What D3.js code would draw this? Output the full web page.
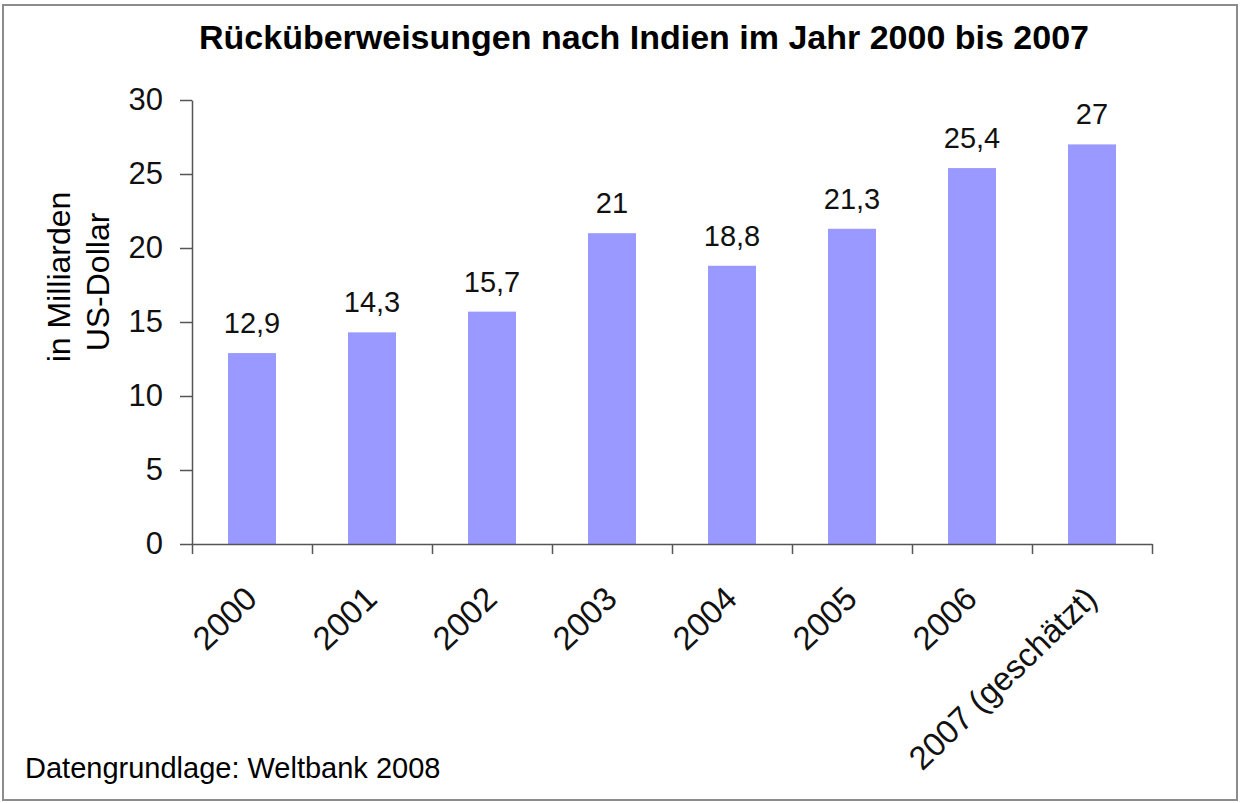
<!DOCTYPE html>
<html>
<head>
<meta charset="utf-8">
<script src="https://cdn.jsdelivr.net/npm/d3@7"></script>
<style>
    body { margin: 0; background: #fff; }
    svg { display: block; font-family: Arial, "Liberation Sans", sans-serif; }
</style>
</head>
<body>
<svg id="drawing_region"></svg>
<script>
// Rücküberweisungen nach Indien, Mrd. US-Dollar
const years = ['2000', '2001', '2002', '2003', '2004', '2005', '2006', '2007 (geschätzt)'];
const values = [12.9, 14.3, 15.7, 21, 18.8, 21.3, 25.4, 27];
const yticks = [0, 5, 10, 15, 20, 25, 30];

var config = {
    parent: '#drawing_region',
    width: 1240,
    height: 803,
    margin: {top:100, right:88, bottom:259, left:192},
    title: 'Rücküberweisungen nach Indien im Jahr 2000 bis 2007',
    ylabel: ['in Milliarden', 'US-Dollar'],
    source: 'Datengrundlage: Weltbank 2008'
};

class BarChart {

    constructor( config, data ) {
        this.config = config;
        this.data = data;
        this.init();
    }

    init() {
        let self = this;

        self.svg = d3.select( self.config.parent )
            .attr('width', self.config.width)
            .attr('height', self.config.height);

        // outer frame
        self.svg.append('rect')
            .attr('x', 3).attr('y', 5)
            .attr('width', self.config.width - 6)
            .attr('height', self.config.height - 8)
            .attr('fill', '#fff')
            .attr('stroke', '#8c8c8c')
            .attr('stroke-width', 2);

        self.chart = self.svg.append('g')
            .attr('transform', `translate(${self.config.margin.left}, ${self.config.margin.top})`);

        self.inner_width = self.config.width - self.config.margin.left - self.config.margin.right;
        self.inner_height = self.config.height - self.config.margin.top - self.config.margin.bottom;

        self.xscale = d3.scaleBand()
            .range( [0, self.inner_width] )
            .paddingInner(0.6)
            .paddingOuter(0.3);

        // ticks sit between the categories
        self.xtickscale = d3.scaleLinear()
            .range( [0, self.inner_width] );

        self.yscale = d3.scaleLinear()
            .range( [self.inner_height, 0] );

        self.yaxis = d3.axisLeft( self.yscale )
            .tickValues( yticks )
            .tickSize(12)
            .tickPadding(17)
            .tickSizeOuter(0);

        self.xtickaxis = d3.axisBottom( self.xtickscale )
            .tickSize(10)
            .tickSizeOuter(0)
            .tickFormat('');

        self.xlabelaxis = d3.axisBottom( self.xscale )
            .tickSize(0);

        self.bar_group = self.chart.append('g');
        self.label_group = self.chart.append('g');

        self.xlabel_group = self.chart.append('g')
            .attr('transform', `translate(0, ${self.inner_height})`);
        self.xaxis_group = self.chart.append('g')
            .attr('transform', `translate(0, ${self.inner_height})`);
        self.yaxis_group = self.chart.append('g');

        self.svg.append('text')
            .style('font-size', '34px')
            .style('font-weight', 'bold')
            .attr('text-anchor', 'middle')
            .attr('x', 644)
            .attr('y', 49)
            .text( self.config.title );

        self.svg.append('text')
            .style('font-size', '32px')
            .attr('transform', 'rotate(-90)')
            .attr('text-anchor', 'middle')
            .selectAll('tspan')
            .data( self.config.ylabel )
            .enter()
            .append('tspan')
            .attr('x', (d, i) => -277 - i * 5)
            .attr('y', (d, i) => 70 + i * 39)
            .text( d => d );

        self.svg.append('text')
            .style('font-size', '29px')
            .attr('x', 25)
            .attr('y', 778)
            .text( self.config.source );
    }

    update() {
        let self = this;

        self.xscale.domain( self.data.map( d => d.year ) );
        self.xtickscale.domain( [0, self.data.length] );
        self.xtickaxis.tickValues( d3.range(0, self.data.length + 1) );
        self.yscale.domain( [0, 30] );

        self.render();
    }

    render() {
        let self = this;

        self.bar_group.selectAll('rect')
            .data(self.data)
            .enter()
            .append('rect')
            .attr('x', d => self.xscale( d.year ))
            .attr('y', d => self.yscale( d.value ))
            .attr('width', self.xscale.bandwidth())
            .attr('height', d => self.inner_height - self.yscale( d.value ))
            .attr('fill', '#9999ff');

        self.label_group.selectAll('text')
            .data(self.data)
            .enter()
            .append('text')
            .text( d => String(d.value).replace('.', ',') )
            .attr('x', d => self.xscale( d.year ) + self.xscale.bandwidth() / 2)
            .attr('y', d => self.yscale( d.value ) - 20)
            .attr('text-anchor', 'middle')
            .style('font-size', '29px')
            .attr('fill', '#111');

        self.xlabel_group
            .call( self.xlabelaxis );
        self.xlabel_group.select('.domain').remove();
        self.xlabel_group.selectAll('text')
            .attr('y', 0)
            .attr('dy', 0)
            .attr('text-anchor', 'end')
            .attr('transform', 'translate(7, 57) rotate(-44)')
            .style('font-size', '33px')
            .style('font-family', 'Arial, "Liberation Sans", sans-serif')
            .attr('fill', '#111');

        self.xaxis_group
            .call( self.xtickaxis );

        self.yaxis_group
            .call( self.yaxis );
        self.yaxis_group.selectAll('text')
            .style('font-size', '31px')
            .style('font-family', 'Arial, "Liberation Sans", sans-serif')
            .attr('fill', '#111');

        self.chart.selectAll('.domain, .tick line')
            .attr('stroke', '#555')
            .attr('stroke-width', 1.5);
    }
}

const bar_chart = new BarChart( config, years.map( (y, i) => ({ year: y, value: values[i] }) ) );
bar_chart.update();
</script>
</body>
</html>
